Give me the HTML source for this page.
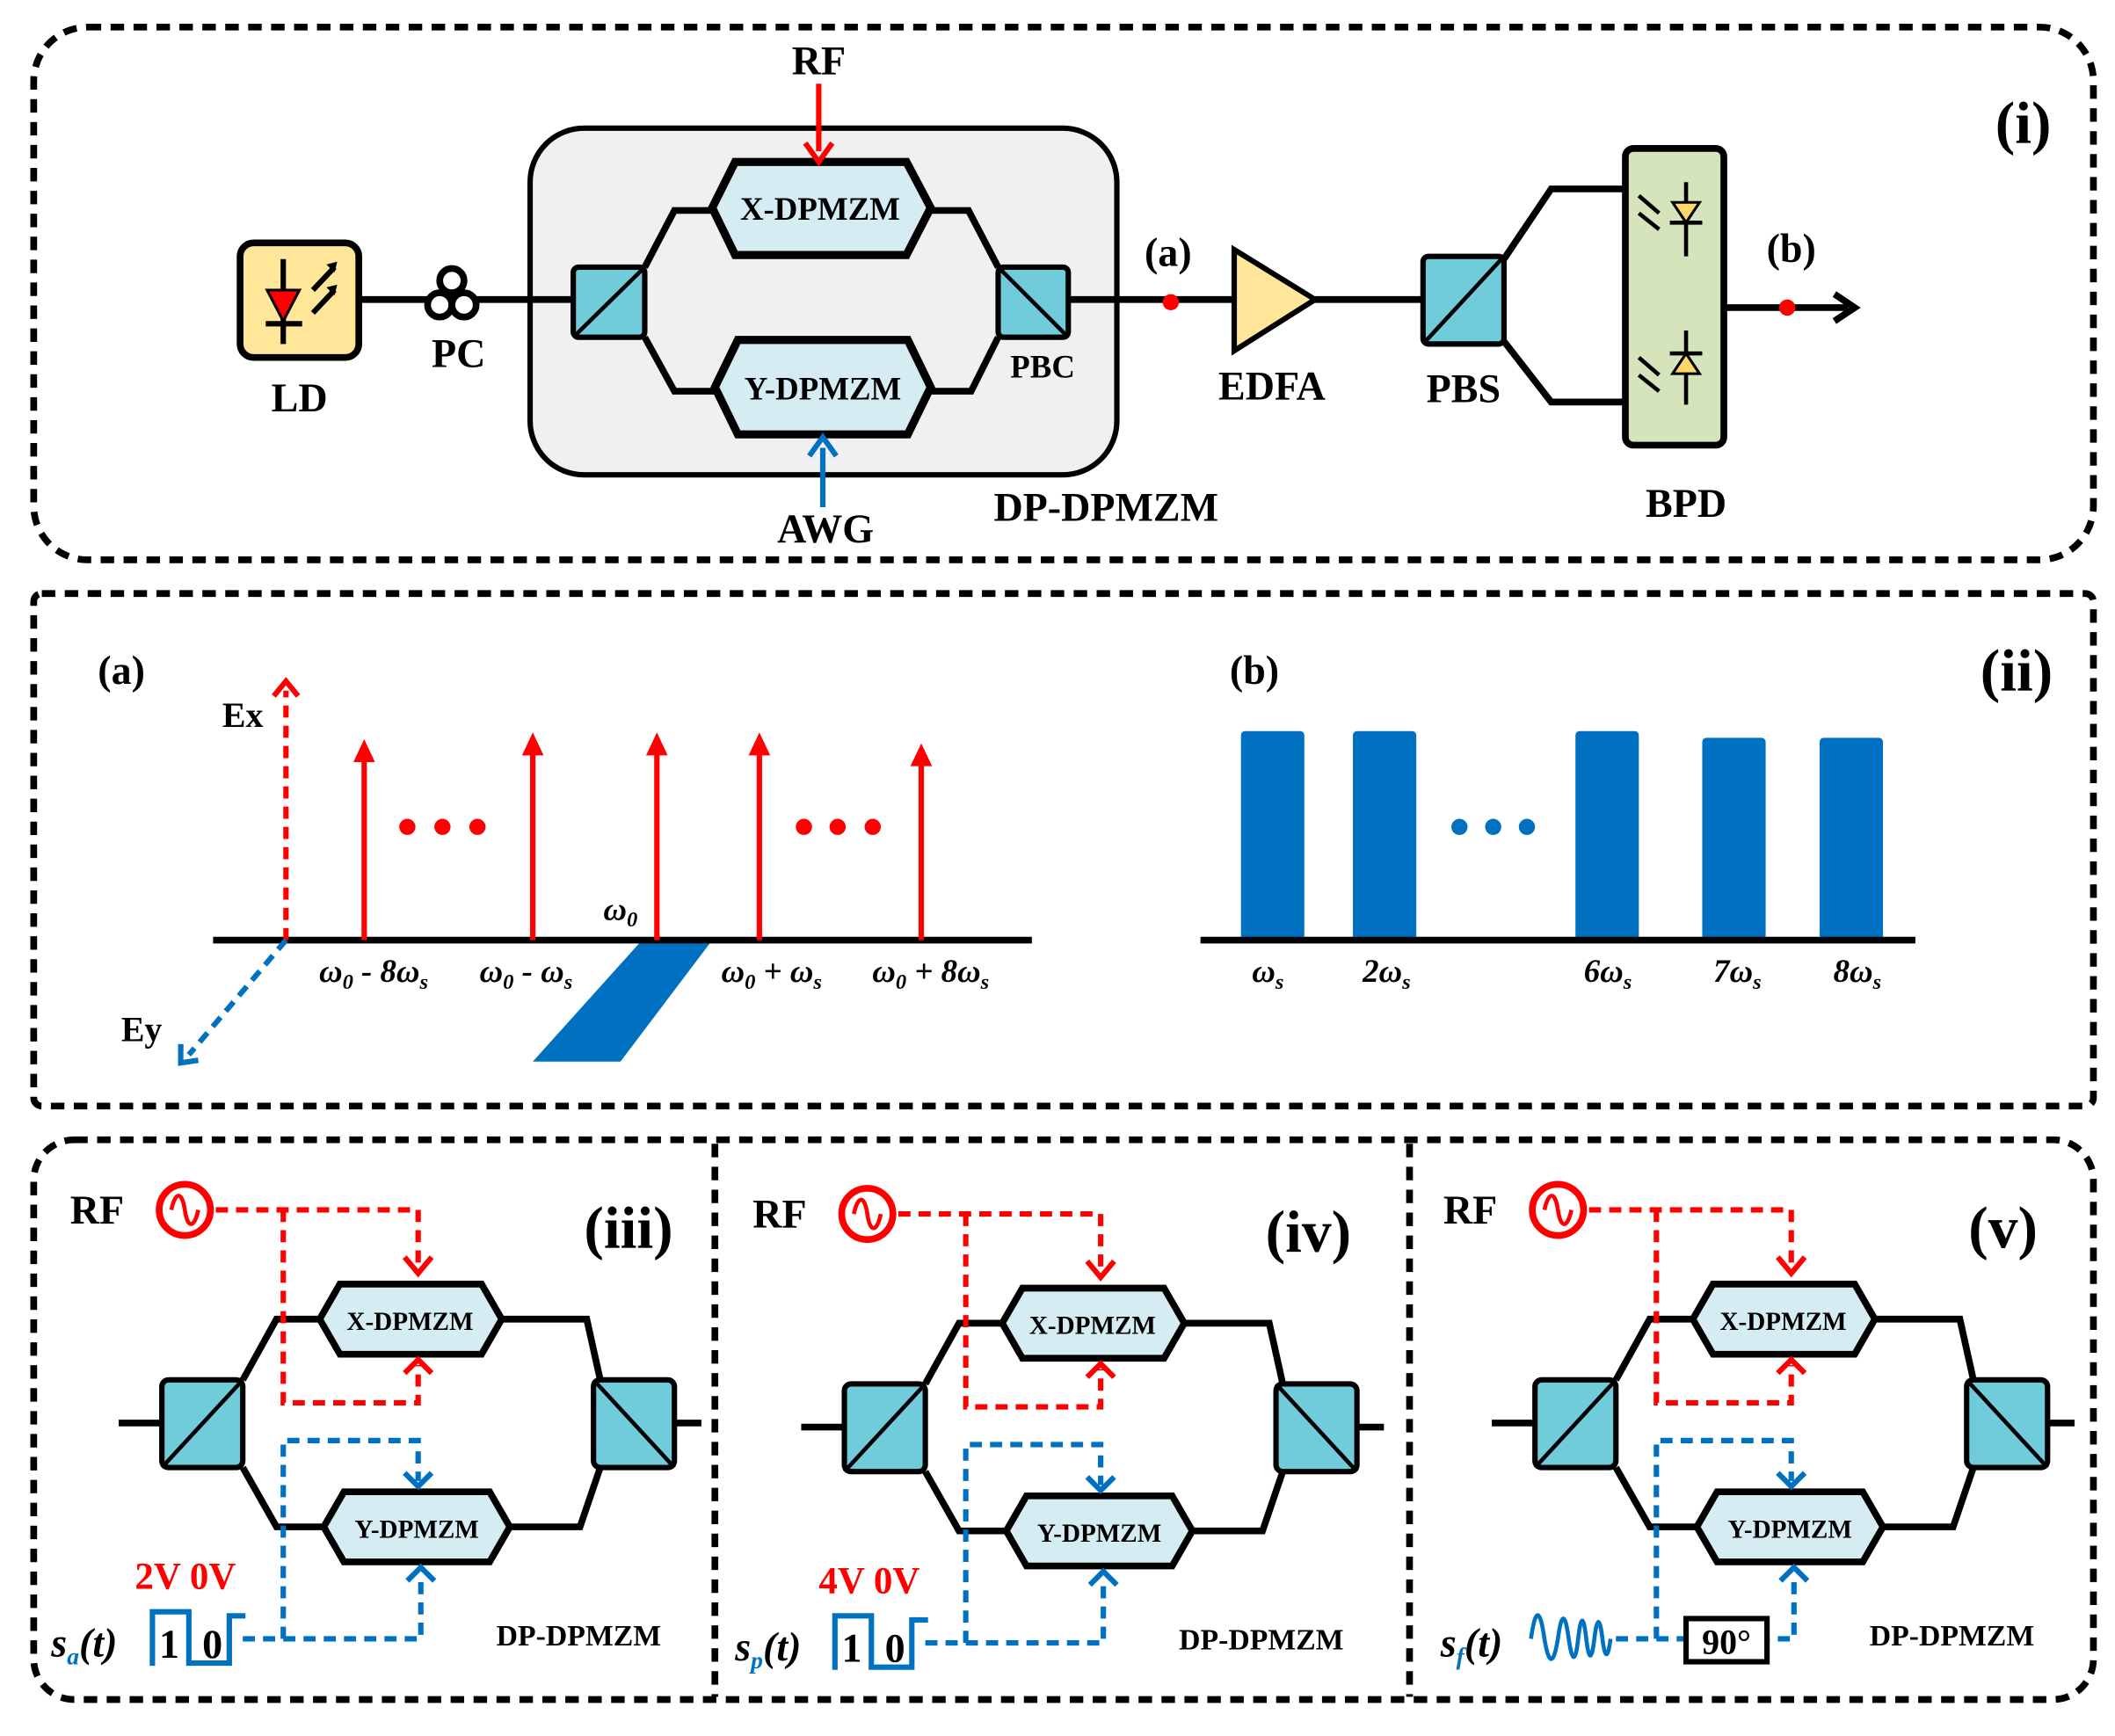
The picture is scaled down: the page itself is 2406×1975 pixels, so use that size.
<!DOCTYPE html>
<html><head><meta charset="utf-8"><style>html,body{margin:0;padding:0;background:#fff}svg{display:block}text{font-family:"Liberation Serif","Times New Roman",serif}</style></head><body>
<svg xmlns="http://www.w3.org/2000/svg" width="2406" height="1975" viewBox="0 0 1568 1287" font-family="'Liberation Serif', serif" font-weight="bold">
<defs>
<g id="mod">
  <g stroke="#000" stroke-width="5" fill="none">
    <line x1="88" y1="1055" x2="120" y2="1055"/><line x1="500" y1="1055" x2="520" y2="1055"/>
    <polyline points="180,1023 205,978 240,978"/><polyline points="370,978 435,978 445,1023"/>
    <polyline points="180,1088 205,1132 243,1132"/><polyline points="375,1132 430,1132 445,1088"/>
  </g>
  <rect x="120" y="1023" width="60" height="65" rx="5" fill="#70CBDB" stroke="#000" stroke-width="4"/>
  <line x1="120" y1="1088" x2="180" y2="1023" stroke="#000" stroke-width="3"/>
  <rect x="440" y="1023" width="60" height="65" rx="5" fill="#70CBDB" stroke="#000" stroke-width="4"/>
  <line x1="440" y1="1023" x2="500" y2="1088" stroke="#000" stroke-width="3"/>
  <polygon points="237,978 252,952 357,952 372,978 357,1004 252,1004" fill="#D4ECF2" stroke="#000" stroke-width="5"/>
  <text x="304" y="986" font-size="19" text-anchor="middle">X-DPMZM</text>
  <polygon points="240,1132 255,1106 363,1106 378,1132 363,1158 255,1158" fill="#D4ECF2" stroke="#000" stroke-width="5"/>
  <text x="309" y="1140" font-size="19" text-anchor="middle">Y-DPMZM</text>
  <g stroke="red" stroke-width="4" fill="none" stroke-dasharray="9,6">
    <polyline points="160,897 310,897 310,938"/>
    <polyline points="210,897 210,1040 310,1040 310,1012"/>
  </g>
  <path d="M300,932 L310,944 L320,932" stroke="red" stroke-width="4" fill="none"/>
  <path d="M300,1018 L310,1008 L320,1018" stroke="red" stroke-width="4" fill="none"/>
  <circle cx="137" cy="897" r="19" fill="none" stroke="red" stroke-width="5"/>
  <path d="M127,897 C130,883 135,883 137,897 C139,911 144,911 147,897" stroke="red" stroke-width="3" fill="none"/>
  <text x="52" y="907" font-size="30">RF</text>
  <g stroke="#0070C0" stroke-width="4" fill="none" stroke-dasharray="9,6">
    <polyline points="180,1215 312,1215 312,1168"/>
    <polyline points="210,1215 210,1068 310,1068 310,1098"/>
  </g>
  <path d="M300,1092 L310,1102 L320,1092" stroke="#0070C0" stroke-width="4" fill="none"/>
  <path d="M302,1172 L312,1162 L322,1172" stroke="#0070C0" stroke-width="4" fill="none"/>
  <text x="368" y="1220" font-size="22">DP-DPMZM</text>
</g>
</defs>

<g fill="none" stroke="#000" stroke-width="5" stroke-dasharray="10,7">
  <rect x="25" y="20" width="1527" height="395" rx="40"/>
  <rect x="25" y="440" width="1527" height="380" rx="6"/>
  <rect x="25" y="845" width="1527" height="415" rx="30"/>
  <line x1="530" y1="848" x2="530" y2="1258"/>
  <line x1="1045" y1="848" x2="1045" y2="1258"/>
</g>

<text x="1500" y="106" font-size="44" text-anchor="middle">(i)</text>
<rect x="393" y="95" width="435" height="257" rx="40" fill="#F0F0F0" stroke="#000" stroke-width="4"/>
<g stroke="#000" stroke-width="5" fill="none">
  <line x1="266" y1="222" x2="425" y2="222"/>
  <polyline points="478,198 500,156 530,156"/><polyline points="478,250 500,290 532,290"/>
  <polyline points="688,156 718,156 740,198"/><polyline points="690,290 720,290 740,250"/>
  <line x1="792" y1="222" x2="915" y2="222"/>
  <line x1="975" y1="222" x2="1055" y2="222"/>
  <polyline points="1115,192 1150,140 1205,140"/><polyline points="1115,253 1150,298 1205,298"/>
  <line x1="1278" y1="228" x2="1370" y2="228"/>
  <path d="M1360,218 L1375,228 L1360,238"/>
</g>
<rect x="178" y="180" width="88" height="85" rx="10" fill="#FFE699" stroke="#000" stroke-width="5"/>
<g stroke="#000" stroke-width="4">
  <line x1="210" y1="192" x2="210" y2="255"/><line x1="197" y1="240" x2="224" y2="240"/>
  <line x1="232" y1="215" x2="248" y2="198"/><line x1="232" y1="232" x2="248" y2="215"/>
</g>
<g fill="#000"><polygon points="242,196 250,194 248,202"/><polygon points="242,213 250,211 248,219"/></g>
<polygon points="198,215 222,215 210,238" fill="red" stroke="#000" stroke-width="2"/>
<g fill="#fff" stroke="#000" stroke-width="5">
  <circle cx="335" cy="208" r="9"/><circle cx="326" cy="226" r="9"/><circle cx="344" cy="226" r="9"/>
</g>
<rect x="425" y="198" width="53" height="52" rx="4" fill="#70CBDB" stroke="#000" stroke-width="4"/>
<line x1="425" y1="250" x2="478" y2="198" stroke="#000" stroke-width="3"/>
<rect x="740" y="198" width="52" height="52" rx="4" fill="#70CBDB" stroke="#000" stroke-width="4"/>
<line x1="740" y1="198" x2="792" y2="250" stroke="#000" stroke-width="3"/>
<polygon points="528,154 545,120 672,120 690,154 672,189 545,189" fill="#D4ECF2" stroke="#000" stroke-width="6"/>
<text x="608" y="163" font-size="24" text-anchor="middle">X-DPMZM</text>
<polygon points="530,287 547,252 673,252 690,287 673,322 547,322" fill="#D4ECF2" stroke="#000" stroke-width="6"/>
<text x="610" y="296" font-size="24" text-anchor="middle">Y-DPMZM</text>
<line x1="607" y1="62" x2="607" y2="112" stroke="red" stroke-width="4"/>
<path d="M597,106 L607,120 L617,106" stroke="red" stroke-width="4" fill="none"/>
<line x1="610" y1="376" x2="610" y2="332" stroke="#0070C0" stroke-width="4"/>
<path d="M600,338 L610,324 L620,338" stroke="#0070C0" stroke-width="4" fill="none"/>
<circle cx="868" cy="224" r="6" fill="red"/>
<polygon points="915,185 975,222 915,260" fill="#FFE699" stroke="#000" stroke-width="4"/>
<rect x="1055" y="190" width="60" height="65" rx="4" fill="#70CBDB" stroke="#000" stroke-width="4"/>
<line x1="1055" y1="255" x2="1115" y2="190" stroke="#000" stroke-width="3"/>
<rect x="1205" y="110" width="73" height="220" rx="6" fill="#D6E4BC" stroke="#000" stroke-width="5"/>
<g stroke="#000" stroke-width="3">
  <line x1="1250" y1="135" x2="1250" y2="190"/><line x1="1238" y1="165" x2="1262" y2="165"/>
  <line x1="1250" y1="245" x2="1250" y2="300"/><line x1="1238" y1="262" x2="1262" y2="262"/>
  <line x1="1215" y1="145" x2="1230" y2="158"/><line x1="1215" y1="158" x2="1230" y2="170"/>
  <line x1="1215" y1="265" x2="1230" y2="278"/><line x1="1215" y1="278" x2="1230" y2="290"/>
</g>
<polygon points="1240,150 1260,150 1250,165" fill="#FFD966" stroke="#000" stroke-width="2"/>
<polygon points="1240,277 1260,277 1250,262" fill="#FFD966" stroke="#000" stroke-width="2"/>
<circle cx="1325" cy="228" r="6" fill="red"/>
<g font-size="30" text-anchor="middle">
  <text x="607" y="55">RF</text>
  <text x="612" y="402">AWG</text>
  <text x="820" y="386">DP-DPMZM</text>
  <text x="222" y="305">LD</text>
  <text x="340" y="272">PC</text>
  <text x="773" y="280" font-size="24">PBC</text>
  <text x="866" y="197">(a)</text>
  <text x="943" y="296">EDFA</text>
  <text x="1085" y="298">PBS</text>
  <text x="1328" y="194">(b)</text>
  <text x="1250" y="383">BPD</text>
</g>

<g font-size="30" text-anchor="middle">
  <text x="90" y="507">(a)</text><text x="930" y="507">(b)</text>
  <text x="1495" y="512" font-size="44">(ii)</text>
  <text x="180" y="539" font-size="26">Ex</text><text x="105" y="772" font-size="26">Ey</text>
</g>
<polygon points="476,697 528,697 460,787 395,787" fill="#0070C0"/>
<line x1="158" y1="697" x2="765" y2="697" stroke="#000" stroke-width="5"/>
<line x1="212" y1="697" x2="212" y2="512" stroke="red" stroke-width="4" stroke-dasharray="9,6"/>
<path d="M203,516 L212,505 L221,516" stroke="red" stroke-width="4" fill="none"/>
<line x1="212" y1="697" x2="140" y2="782" stroke="#0070C0" stroke-width="4" stroke-dasharray="9,6"/>
<path d="M134,774 L134,788 L147,786" stroke="#0070C0" stroke-width="4" fill="none"/>
<g stroke="red" stroke-width="4">
  <line x1="270" y1="697" x2="270" y2="560"/><line x1="395" y1="697" x2="395" y2="555"/>
  <line x1="487" y1="697" x2="487" y2="555"/><line x1="563" y1="697" x2="563" y2="555"/>
  <line x1="683" y1="697" x2="683" y2="563"/>
</g>
<g fill="red">
  <polygon points="262,565 270,548 278,565"/><polygon points="387,560 395,543 403,560"/>
  <polygon points="479,560 487,543 495,560"/><polygon points="555,560 563,543 571,560"/>
  <polygon points="675,568 683,551 691,568"/>
  <circle cx="302" cy="613" r="6"/><circle cx="328" cy="613" r="6"/><circle cx="354" cy="613" r="6"/>
  <circle cx="596" cy="613" r="6"/><circle cx="621" cy="613" r="6"/><circle cx="647" cy="613" r="6"/>
</g>
<g font-size="24" font-style="italic" text-anchor="middle">
  <text x="460" y="682">ω<tspan font-size="16" dy="5">0</tspan></text>
  <text x="277" y="728">ω<tspan font-size="16" dy="5">0</tspan><tspan dy="-5"> - 8ω</tspan><tspan font-size="16" dy="5">s</tspan></text>
  <text x="390" y="728">ω<tspan font-size="16" dy="5">0</tspan><tspan dy="-5"> - ω</tspan><tspan font-size="16" dy="5">s</tspan></text>
  <text x="572" y="728">ω<tspan font-size="16" dy="5">0</tspan><tspan dy="-5"> + ω</tspan><tspan font-size="16" dy="5">s</tspan></text>
  <text x="690" y="728">ω<tspan font-size="16" dy="5">0</tspan><tspan dy="-5"> + 8ω</tspan><tspan font-size="16" dy="5">s</tspan></text>
</g>
<g fill="#0070C0">
  <rect x="920" y="542" width="47" height="155" rx="3"/><rect x="1003" y="542" width="47" height="155" rx="3"/>
  <rect x="1168" y="542" width="47" height="155" rx="3"/><rect x="1262" y="547" width="47" height="150" rx="3"/>
  <rect x="1349" y="547" width="47" height="150" rx="3"/>
  <circle cx="1082" cy="613" r="6"/><circle cx="1107" cy="613" r="6"/><circle cx="1132" cy="613" r="6"/>
</g>
<line x1="890" y1="697" x2="1420" y2="697" stroke="#000" stroke-width="5"/>
<g font-size="24" font-style="italic" text-anchor="middle">
  <text x="940" y="728">ω<tspan font-size="16" dy="5">s</tspan></text>
  <text x="1028" y="728">2ω<tspan font-size="16" dy="5">s</tspan></text>
  <text x="1192" y="728">6ω<tspan font-size="16" dy="5">s</tspan></text>
  <text x="1288" y="728">7ω<tspan font-size="16" dy="5">s</tspan></text>
  <text x="1377" y="728">8ω<tspan font-size="16" dy="5">s</tspan></text>
</g>

<use href="#mod"/>
<text x="466" y="925" font-size="44" text-anchor="middle">(iii)</text>
<text x="100" y="1178" font-size="28" fill="red">2V 0V</text>
<text x="38" y="1228" font-size="30" font-style="italic">s<tspan font-size="18" dy="6" fill="#0070C0">a</tspan><tspan dy="-6">(t)</tspan></text>
<polyline points="113,1235 113,1195 140,1195 140,1233 170,1233 170,1198 182,1198" fill="none" stroke="#0070C0" stroke-width="4"/>
<text x="118" y="1229" font-size="30">1</text><text x="150" y="1229" font-size="30">0</text>

<use href="#mod" transform="translate(506,3)"/>
<text x="970" y="928" font-size="44" text-anchor="middle">(iv)</text>
<text x="607" y="1181" font-size="28" fill="red">4V 0V</text>
<text x="545" y="1231" font-size="30" font-style="italic">s<tspan font-size="18" dy="6" fill="#0070C0">p</tspan><tspan dy="-6">(t)</tspan></text>
<polyline points="619,1238 619,1198 646,1198 646,1236 676,1236 676,1201 688,1201" fill="none" stroke="#0070C0" stroke-width="4"/>
<text x="624" y="1232" font-size="30">1</text><text x="656" y="1232" font-size="30">0</text>

<use href="#mod" transform="translate(1018,0)"/>
<text x="1485" y="925" font-size="44" text-anchor="middle">(v)</text>
<text x="1068" y="1228" font-size="30" font-style="italic">s<tspan font-size="18" dy="6" fill="#0070C0">f</tspan><tspan dy="-6">(t)</tspan></text>
<path d="M1135,1215 Q1140,1180 1145,1215 Q1150,1245 1155,1215 Q1159,1185 1163,1215 Q1167,1242 1170,1215 Q1173,1188 1176,1215 Q1179,1240 1182,1215 Q1185,1190 1188,1215 Q1191,1238 1194,1215" fill="none" stroke="#0070C0" stroke-width="3"/>
<rect x="1250" y="1200" width="60" height="32" fill="#fff" stroke="#000" stroke-width="4"/>
<text x="1280" y="1226" font-size="26" text-anchor="middle">90°</text>
</svg>
</body></html>
